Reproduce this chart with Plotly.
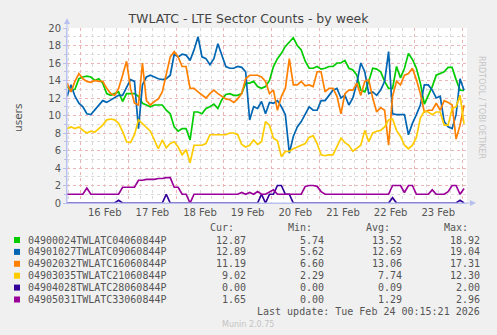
import pandas as pd
import plotly.graph_objects as go

# ---------------- data ----------------
start_time = "2026-02-15 17:00"
n_points = 101  # samples every 2 hours

series_names = [
    "04900024TWLATC04060844P",
    "04901027TWLATC09060844P",
    "04902032TWLATC16060844P",
    "04903035TWLATC21060844P",
    "04904028TWLATC28060844P",
    "04905031TWLATC33060844P",
]
series_colors = ["#00CC00", "#0066B3", "#FF8000", "#FFCC00", "#330099", "#990099"]

green = [13.3, 12.9, 13.0, 14.2, 14.4, 14.5, 14.4, 14.0, 14.2, 13.7, 12.5, 12.3, 12.5, 12.7, 11.6, 12.5, 12.5, 12.5, 12.2, 11.4, 11.2, 11.0, 11.2, 11.2, 11.2, 10.6, 10.2,
         8.7, 8.2, 8.5, 8.5, 7.2, 10.4, 10.4, 10.2, 10.8, 11.0, 11.3, 10.8, 11.8, 12.4, 12.5, 12.3, 12.3, 12.5, 13.7, 13.7, 13.9, 13.3, 13.1, 13.3, 14.0,
         15.6, 16.5, 17.1, 17.9, 18.4, 18.9, 18.0, 17.5, 16.2, 15.4, 15.4, 15.6, 15.3, 15.4, 15.6, 15.6, 16.0, 16.0, 16.3, 15.4, 15.2, 14.6, 12.9, 12.7,
         13.9, 15.4, 15.3, 15.0, 13.9, 13.1, 13.1, 15.6, 14.3, 15.4, 17.1, 16.4, 15.4, 13.7, 11.3, 12.3, 13.3, 14.6, 14.8, 15.0, 15.5, 15.5, 14.1, 12.9, 12.87]

blue = [12.2, 13.5, 12.2, 11.4, 11.0, 10.2, 10.1, 10.6, 11.2, 11.7, 11.5, 11.8, 12.0, 12.3, 12.3, 13.3, 14.1, 13.9, 8.5, 13.5, 14.4, 14.6, 14.4, 14.2, 14.1, 14.2, 14.6,
        17.0, 16.7, 17.0, 16.9, 16.3, 17.5, 19.0, 16.7, 16.5, 15.8, 16.5, 18.2, 16.9, 15.6, 15.4, 15.4, 15.6, 15.5, 15.0, 9.5, 11.0, 10.8, 11.6, 10.2, 11.5,
        11.4, 11.7, 11.0, 10.1, 5.7, 7.6, 8.7, 9.3, 10.1, 11.0, 10.6, 10.6, 11.7, 11.7, 12.3, 12.9, 13.1, 12.0, 12.3, 11.2, 12.0, 13.7, 16.0, 15.0,
        12.5, 12.7, 12.3, 12.9, 13.9, 17.3, 10.2, 10.1, 10.1, 10.1, 7.8, 9.1, 10.1, 11.2, 13.5, 13.5, 12.9, 12.0, 12.2, 9.3, 8.7, 8.5, 10.1, 14.2, 12.89]

orange = [13.7, 12.7, 13.9, 14.8, 14.2, 13.9, 13.8, 14.0, 13.9, 13.9, 13.1, 12.5, 12.3, 13.1, 14.6, 16.2, 13.1, 11.4, 11.2, 16.0, 11.7, 11.2, 11.6, 11.9, 12.7, 14.6, 16.7,
          17.3, 16.7, 15.6, 15.6, 13.1, 13.1, 12.7, 12.3, 12.0, 12.5, 12.9, 12.5, 12.2, 11.9, 11.8, 11.5, 11.9, 12.5, 14.2, 14.6, 14.6, 14.6, 14.4, 13.9, 12.5,
          12.9, 10.6, 12.2, 13.1, 16.5, 13.5, 13.5, 13.9, 13.4, 13.5, 13.3, 15.0, 15.0, 12.7, 13.1, 13.1, 12.2, 10.2, 12.5, 12.9, 12.9, 13.7, 12.3, 13.9,
          14.1, 12.0, 10.4, 10.9, 10.6, 6.6, 12.2, 13.9, 13.5, 14.6, 14.8, 15.4, 14.1, 12.5, 10.4, 10.6, 10.6, 11.4, 10.6, 11.7, 11.5, 11.2, 7.3, 8.9, 11.19]

yellow = [8.5, 8.7, 8.5, 8.7, 8.3, 8.0, 8.2, 8.1, 8.5, 8.9, 9.5, 9.6, 9.5, 9.1, 8.2, 7.0, 6.9, 7.8, 9.5, 9.1, 8.7, 8.2, 7.2, 6.2, 7.2, 6.3, 6.8,
          7.0, 6.4, 5.5, 6.1, 4.6, 6.6, 6.6, 6.6, 6.8, 7.8, 7.8, 7.8, 7.8, 7.8, 8.0, 8.0, 7.8, 6.7, 6.4, 6.6, 7.2, 6.7, 7.0, 9.3, 8.9,
          7.4, 7.1, 5.3, 5.9, 5.9, 6.2, 6.4, 6.6, 6.8, 7.5, 7.7, 6.8, 5.5, 5.4, 5.5, 5.5, 6.4, 7.4, 6.9, 6.6, 5.9, 6.2, 6.6, 8.3,
          7.0, 8.0, 8.2, 8.3, 8.7, 9.5, 9.6, 8.3, 7.6, 6.6, 6.2, 6.6, 7.5, 9.7, 10.5, 10.4, 10.1, 10.4, 10.4, 8.9, 8.9, 10.8, 11.0, 12.3, 9.02]

indigo = [0, 0, 0, 0, 0, 0, 0, 0, 0, 0, 0, 0, 0, 0.3, 0, 0, 0, 0, 0, 0, 0, 0, 0, 0, 0, 1.0, 0,
          0, 0, 0, 0, 0, 0, 0, 0, 0, 0, 0, 0, 0, 0, 0, 0, 0, 0, 0, 0, 0, 0, 1.0, 0, 1.0,
          1.0, 2.0, 2.0, 1.0, 1.0, 0, 0, 0, 0, 0, 0, 0, 0, 0, 0, 0, 0, 0, 0, 0, 0, 0, 0, 0,
          0, 0, 0, 0, 0, 0, 0.6, 0, 0, 0, 0, 0, 0, 0, 0, 0, 0, 0, 0, 0, 0, 0, 0, 0.3, 0.0]

purple = [1.0, 1.0, 1.0, 1.0, 1.0, 1.7, 1.0, 1.0, 1.0, 1.0, 1.0, 1.0, 1.0, 1.0, 1.8, 1.8, 1.8, 1.8, 2.6, 2.6, 2.7, 2.7, 2.7, 2.8, 2.8, 2.9, 2.9,
          1.8, 1.8, 1.0, 1.0, 0.0, 1.0, 1.0, 1.0, 1.0, 1.0, 1.0, 1.0, 1.0, 1.0, 1.0, 1.0, 1.0, 1.2, 1.0, 1.2, 1.0, 1.3, 1.0, 1.0, 1.3,
          1.5, 1.0, 1.0, 1.0, 1.0, 1.0, 1.0, 1.0, 1.9, 2.0, 2.0, 1.9, 1.3, 1.0, 1.0, 1.0, 1.0, 1.0, 1.0, 1.0, 1.0, 1.0, 1.0, 1.0,
          1.0, 1.0, 1.0, 1.0, 1.0, 1.0, 2.0, 2.0, 2.0, 1.2, 2.0, 2.0, 1.0, 1.0, 1.0, 1.0, 1.5, 1.0, 1.0, 1.0, 1.3, 2.0, 2.0, 1.0, 1.65]

cur_vals = ["12.87", "12.89", "11.19", "9.02", "0.00", "1.65"]
min_vals = ["5.74", "5.62", "6.60", "2.29", "0.00", "0.00"]
avg_vals = ["13.52", "12.69", "13.06", "7.74", "0.09", "1.29"]
max_vals = ["18.92", "19.04", "17.31", "12.30", "2.00", "2.96"]
column_headers = ["Cur:", "Min:", "Avg:", "Max:"]

title_text = "TWLATC - LTE Sector Counts - by week"
y_label = "users"
last_update = "Last update: Tue Feb 24 00:15:21 2026"
footer = "Munin 2.0.75"
side_text = "RRDTOOL / TOBI OETIKER"
x_range = ["2026-02-15 17:00", "2026-02-24 02:30"]
y_range = [0, 20]

# ---------------- figure ----------------
times = pd.date_range(start_time, periods=n_points, freq="2h")
all_series = [green, blue, orange, yellow, indigo, purple]

W, H = 497, 335
L, R, T, B = 67, 30, 28, 132
PW, PH = W - L - R, H - T - B


def fx(px):
    return (px - L) / PW


def fy(py):
    return (T + PH - py) / PH


fig = go.Figure()
for name, color, vals in zip(series_names, series_colors, all_series):
    fig.add_trace(go.Scatter(x=times, y=vals, mode="lines", name=name,
                             line=dict(color=color, width=1.7), showlegend=False,
                             hoverinfo="skip"))

major_grid = "#ECB4B4"
minor_grid = "#DADADA"
axis_col = "#B8C0F0"
txt = "#555555"
sans = "DejaVu Sans"
mono = "DejaVu Sans Mono"

fig.update_layout(
    width=W, height=H,
    margin=dict(l=L, r=R, t=T, b=B, pad=0),
    paper_bgcolor="#F0F0F0",
    plot_bgcolor="#FFFFFF",
    title=dict(text=title_text, x=0.5, xref="container", xanchor="center",
               y=1 - 19 / H, yref="container", yanchor="middle",
               font=dict(family=sans, size=12.5, color="#444444")),
    xaxis=dict(
        type="date", range=x_range, tick0="2026-02-16", dtick=86400000,
        tickformat="%d %b", ticklabelmode="period",
        showgrid=True, gridcolor=major_grid, griddash="dot", gridwidth=1,
        minor=dict(dtick=21600000, showgrid=True, gridcolor=minor_grid, griddash="dot"),
        ticks="", showline=True, linecolor=axis_col, linewidth=1,
        tickfont=dict(family=sans, size=10, color=txt), zeroline=False,
    ),
    yaxis=dict(
        range=y_range, dtick=2, tick0=0,
        showgrid=True, gridcolor=major_grid, griddash="dot", gridwidth=1,
        minor=dict(dtick=1, showgrid=True, gridcolor=minor_grid, griddash="dot",
                   ticks="outside", ticklen=2, tickcolor=axis_col),
        ticks="outside", ticklen=3, tickcolor=axis_col,
        showline=True, linecolor=axis_col, linewidth=1, zeroline=False,
        tickfont=dict(family=sans, size=10, color=txt),
    ),
)

anns = []
# y-axis label
anns.append(dict(text=y_label, x=fx(10), y=fy(118), xref="paper", yref="paper",
                 showarrow=False, textangle=-90, font=dict(family=sans, size=10.5, color=txt)))
# side text
anns.append(dict(text=side_text, x=fx(488), y=fy(54), xref="paper", yref="paper",
                 showarrow=False, textangle=90, font=dict(family=sans, size=8, color="#C4C4C4")))
# header
head_right = [236, 314, 392, 470]
for h, xr in zip(column_headers, head_right):
    anns.append(dict(text=h, x=fx(xr), y=fy(227), xref="paper", yref="paper", xanchor="right",
                     yanchor="middle", showarrow=False, font=dict(family=mono, size=10, color=txt)))
# rows
col_right = [248, 326, 404, 482]
shapes = []
for i, name in enumerate(series_names):
    py = 240 + 11.9 * i
    anns.append(dict(text=name, x=fx(26), y=fy(py), xref="paper", yref="paper", xanchor="left",
                     yanchor="middle", showarrow=False, font=dict(family=mono, size=10, color=txt)))
    for col, xr in zip([cur_vals, min_vals, avg_vals, max_vals], col_right):
        anns.append(dict(text=col[i], x=fx(xr), y=fy(py), xref="paper", yref="paper", xanchor="right",
                         yanchor="middle", showarrow=False, font=dict(family=mono, size=10, color=txt)))
    shapes.append(dict(type="rect", xref="paper", yref="paper", x0=fx(14), x1=fx(20),
                       y0=fy(py - 3), y1=fy(py + 3), fillcolor=series_colors[i], line=dict(width=0)))
anns.append(dict(text=last_update, x=fx(482), y=fy(311), xref="paper", yref="paper", xanchor="right",
                 yanchor="middle", showarrow=False, font=dict(family=mono, size=10, color=txt)))
anns.append(dict(text=footer, x=fx(248), y=fy(324), xref="paper", yref="paper", xanchor="center",
                 yanchor="middle", showarrow=False, font=dict(family=sans, size=8, color="#C4C4C4")))

# axis extensions with arrows
shapes.append(dict(type="line", xref="paper", yref="paper", x0=fx(67), x1=fx(67), y0=fy(203), y1=fy(22),
                   line=dict(color=axis_col, width=1)))
shapes.append(dict(type="path", xref="paper", yref="paper",
                   path=f"M {fx(64)},{fy(24)} L {fx(70)},{fy(24)} L {fx(67)},{fy(18)} Z",
                   fillcolor=axis_col, line=dict(width=0)))
shapes.append(dict(type="line", xref="paper", yref="paper", x0=fx(67), x1=fx(472), y0=fy(203), y1=fy(203),
                   line=dict(color=axis_col, width=1)))
shapes.append(dict(type="path", xref="paper", yref="paper",
                   path=f"M {fx(470)},{fy(200)} L {fx(470)},{fy(206)} L {fx(476)},{fy(203)} Z",
                   fillcolor=axis_col, line=dict(width=0)))

fig.update_layout(annotations=anns, shapes=shapes)
fig.write_html(
    "out.html",
    config={"displayModeBar": False},
    post_script="document.body.style.margin='0';document.body.style.overflow='hidden';",
)
